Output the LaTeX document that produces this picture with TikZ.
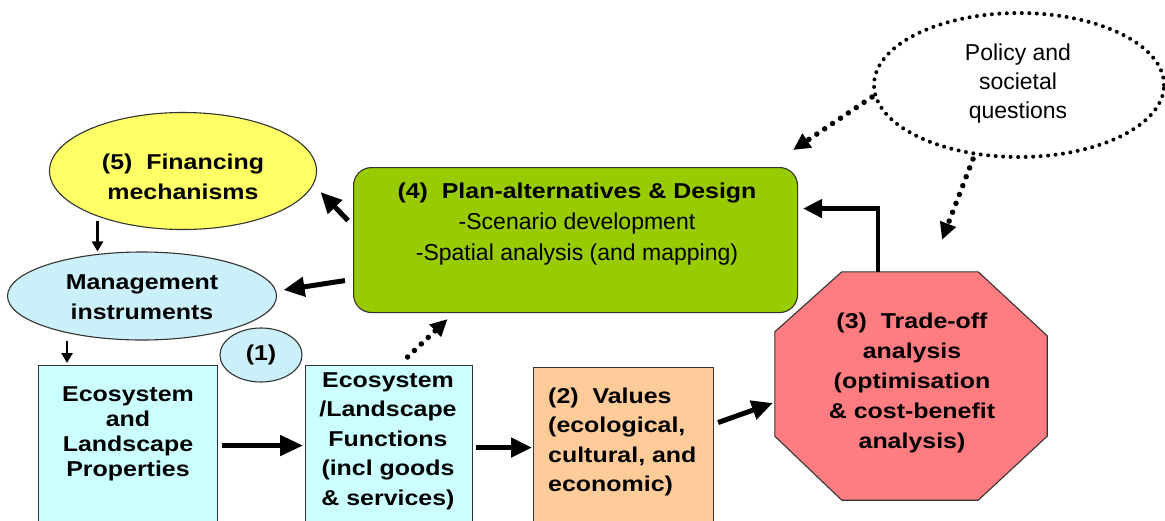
\documentclass[tikz,border=0pt]{standalone}
\usepackage{fontspec}
\setmainfont{Liberation Sans}
\newfontfamily\wfont[FakeStretch=1.16]{Liberation Sans}
\usetikzlibrary{arrows.meta,shapes.geometric}
\definecolor{yel}{HTML}{FFFF66}
\definecolor{cyanb}{HTML}{CCFFFF}
\definecolor{lblue}{HTML}{CCF0FA}
\definecolor{orng}{HTML}{FFCC99}
\definecolor{redo}{HTML}{FF7C80}
\definecolor{grn}{HTML}{99CC00}
\tikzset{
  bt/.style={font=\wfont\bfseries\fontsize{21.5}{29.5}\selectfont, align=center, inner sep=0pt},
  rt/.style={font=\fontsize{23}{30.5}\selectfont, align=center, inner sep=0pt},
  shp/.style={draw=black!80, line width=1.1pt},
  bigarr/.style={line width=5pt, -{Triangle[length=21pt,width=19pt]}},
  smallarr/.style={line width=2.6pt, -{Triangle[length=10pt,width=11pt]}},
  dotarr/.style={line width=5.5pt, dash pattern=on 0pt off 9.5pt, line cap=round, -{Triangle[length=17pt,width=16pt]}},
}
\begin{document}
\begin{tikzpicture}[x=1pt,y=-1pt]
\useasboundingbox (0,0) rectangle (1165,520);
\fill[white] (0,0) rectangle (1165,520);
% green plan box
\node[shp, fill=grn, rounded corners=18pt, minimum width=444pt, minimum height=145pt, anchor=north west] (plan) at (353,167) {};
\node[rt, font=\fontsize{23}{31}\selectfont] (plantxt) at (577,224) {{\wfont\bfseries\fontsize{21.5}{31}\selectfont(4)~ Plan-alternatives \& Design}\\-Scenario development\\-Spatial analysis (and mapping)};
% financing
\node[shp, ellipse, fill=yel, minimum width=267pt, minimum height=117pt, inner sep=0pt] (fin) at (183,171) {};
\node[bt] (fintxt) at (183,177) {(5)~ Financing\\mechanisms};
% management
\node[shp, ellipse, fill=lblue, minimum width=269pt, minimum height=88pt, inner sep=0pt] (mgmt) at (142,296) {};
\node[bt] (mgmttxt) at (142,297) {Management\\instruments};
% (1)
\node[shp, ellipse, fill=lblue, minimum width=82pt, minimum height=54pt, bt] (one) at (261,355) {(1)};
% box 1
\node[shp, fill=cyanb, minimum width=179pt, minimum height=200pt, anchor=north west] (eprop) at (38,365) {};
\node[bt, font=\wfont\bfseries\fontsize{21.5}{25}\selectfont] (eproptxt) at (128,434) {Ecosystem\\and\\Landscape\\Properties};
% box 2
\node[shp, fill=cyanb, minimum width=167pt, minimum height=200pt, anchor=north west] (efun) at (305,365) {};
\node[bt] (efuntxt) at (388,441) {Ecosystem\\/Landscape\\Functions\\(incl goods\\\& services)};
% box 3
\node[shp, fill=orng, minimum width=180pt, minimum height=200pt, anchor=north west] (val) at (533,367) {};
\node[bt, align=left, anchor=west] (valtxt) at (548,442) {(2)~ Values\\(ecological,\\cultural, and\\economic)};
% octagon
\node[minimum width=272pt, minimum height=228pt, inner sep=0pt] (trade) at (911,386) {};
\draw[shp, fill=redo] ([xshift=67pt]trade.north west) -- ([xshift=-69pt]trade.north east)
  -- ([yshift=-64pt]trade.north east) -- ([yshift=64pt]trade.south east)
  -- ([xshift=-69pt]trade.south east) -- ([xshift=67pt]trade.south west)
  -- ([yshift=64pt]trade.south west) -- ([yshift=-60pt]trade.north west) -- cycle;
\node[bt, font=\wfont\bfseries\fontsize{21.5}{30}\selectfont] (tradetxt) at (912,383) {(3)~ Trade-off\\analysis\\(optimisation\\\& cost-benefit\\analysis)};
% policy
\node[ellipse, draw, line width=4pt, dash pattern=on 0pt off 7.5pt, line cap=round, minimum width=290pt, minimum height=144pt] (pol) at (1019,85) {};
\node[rt, font=\fontsize{23}{29}\selectfont] (poltxt) at (1018,84) {Policy and\\societal\\questions};
% connectors
\draw[smallarr] ([yshift=-5pt]fin.-152) -- (mgmt.north -| fin.-152);
\draw[smallarr] ([xshift=-61pt,yshift=24pt]eprop.north) -- ([xshift=-61pt,yshift=2pt]eprop.north);
\draw[bigarr, -{Triangle[length=23pt,width=20pt]}, shorten <=4pt, shorten >=2pt] ([yshift=20pt]eprop.east) -- ([yshift=20pt]efun.west);
\draw[bigarr, shorten <=3pt, shorten >=1pt] ([yshift=18pt]efun.east) -- ([yshift=20pt]val.west);
\draw[bigarr] ([xshift=4pt,yshift=45pt]val.east) -- ([xshift=-2pt,yshift=-17pt]trade.west);
\draw[line width=4.5pt, -{Triangle[length=19pt,width=18pt]}, shorten >=5pt] ([xshift=-33pt]trade.north) |- ([yshift=31.5pt]plan.east);
\draw[bigarr] ([xshift=-5pt,yshift=19.5pt]plan.west) -- ([xshift=3.5pt,yshift=-21pt]fin.east);
\draw[bigarr] ([xshift=-8pt,yshift=-40.5pt]plan.west) -- ([xshift=6.5pt,yshift=6pt]mgmt.east);
\draw[dotarr] ([xshift=18.5pt,yshift=8pt]efun.north) -- ([xshift=-128pt,yshift=-6pt]plan.south);
\draw[dotarr] ([yshift=-12pt]pol.west) -- ([xshift=-5pt,yshift=17pt]plan.north east);
\draw[dotarr] ([xshift=-46pt]pol.south) -- ([xshift=31pt,yshift=32pt]trade.north);
\end{tikzpicture}
\end{document}
